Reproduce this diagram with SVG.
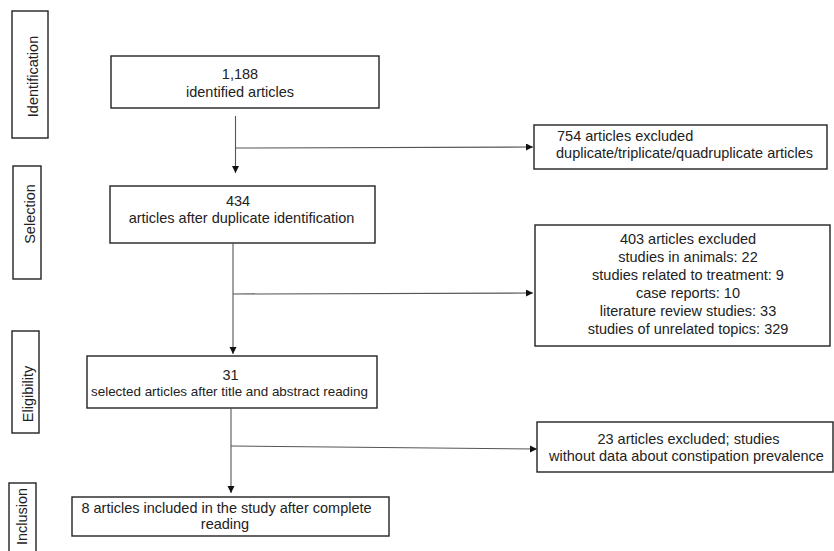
<svg xmlns="http://www.w3.org/2000/svg" width="834" height="551" viewBox="0 0 834 551">
<style>
.box{fill:#fff;stroke:#222;stroke-width:1.4}
.t{font-family:"Liberation Sans",Arial,sans-serif;font-size:14.5px;fill:#222}
.c{text-anchor:middle}
.conn{stroke:#555;stroke-width:1.1;fill:none}
</style>
<defs>
<marker id="ah" markerUnits="userSpaceOnUse" markerWidth="8" markerHeight="8" refX="7" refY="3.5" orient="auto">
<path d="M0,0 L7,3.5 L0,7 Z" fill="#111"/>
</marker>
</defs>
<rect width="834" height="551" fill="#fff"/>
<g id="stage-identification">
<rect class="box" x="12" y="11" width="36" height="127"/>
<text class="t c" transform="translate(37.5,76.5) rotate(-90)">Identification</text>
</g>
<g id="stage-selection">
<rect class="box" x="13" y="166" width="28" height="113"/>
<text class="t c" transform="translate(35,214) rotate(-90)">Selection</text>
</g>
<g id="stage-eligibility">
<rect class="box" x="12" y="331" width="27" height="102"/>
<text class="t c" transform="translate(32.5,394) rotate(-90)">Eligibility</text>
</g>
<g id="stage-inclusion">
<rect class="box" x="9" y="483" width="27" height="80"/>
<text class="t c" transform="translate(26.5,516.5) rotate(-90)">Inclusion</text>
</g>
<g id="n1">
<rect class="box" x="111" y="56" width="268" height="52"/>
<text class="t c" x="240" y="79">1,188</text>
<text class="t c" x="240" y="97">identified articles</text>
</g>
<g id="n2">
<rect class="box" x="110" y="186" width="265" height="57"/>
<text class="t c" x="238" y="205.5">434</text>
<text class="t c" x="241.5" y="223">articles after duplicate identification</text>
</g>
<g id="n3">
<rect class="box" x="87" y="356" width="290" height="52"/>
<text class="t c" x="230.5" y="379.5">31</text>
<text class="t c" x="229.5" y="395.5" style="font-size:13.4px">selected articles after title and abstract reading</text>
</g>
<g id="n4">
<rect class="box" x="72" y="497" width="317" height="39"/>
<text class="t c" x="226.5" y="513">8 articles included in the study after complete</text>
<text class="t c" x="225" y="528.5">reading</text>
</g>
<g id="x1">
<rect class="box" x="534" y="125" width="293" height="44"/>
<text class="t" x="557" y="141">754 articles excluded</text>
<text class="t" x="556" y="158">duplicate/triplicate/quadruplicate articles</text>
</g>
<g id="x2">
<rect class="box" x="535" y="225" width="295" height="121"/>
<text class="t c" x="688" y="244">403 articles excluded</text>
<text class="t c" x="688" y="262">studies in animals: 22</text>
<text class="t c" x="688" y="280">studies related to treatment: 9</text>
<text class="t c" x="688" y="298">case reports: 10</text>
<text class="t c" x="688" y="316">literature review studies: 33</text>
<text class="t c" x="688" y="334">studies of unrelated topics: 329</text>
</g>
<g id="x3">
<rect class="box" x="537" y="422" width="296" height="50"/>
<text class="t c" x="688.5" y="443.5">23 articles excluded; studies</text>
<text class="t c" x="686.5" y="461">without data about constipation prevalence</text>
</g>
<g id="connectors">
<line class="conn" x1="235.5" y1="116" x2="235.5" y2="173" marker-end="url(#ah)"/>
<line class="conn" x1="235.5" y1="148" x2="533" y2="147" marker-end="url(#ah)"/>
<line class="conn" x1="233" y1="243" x2="233" y2="354" marker-end="url(#ah)"/>
<line class="conn" x1="233" y1="294" x2="533" y2="293" marker-end="url(#ah)"/>
<line class="conn" x1="231" y1="408" x2="231" y2="493" marker-end="url(#ah)"/>
<line class="conn" x1="231" y1="446" x2="537" y2="449" marker-end="url(#ah)"/>
</g>
</svg>
